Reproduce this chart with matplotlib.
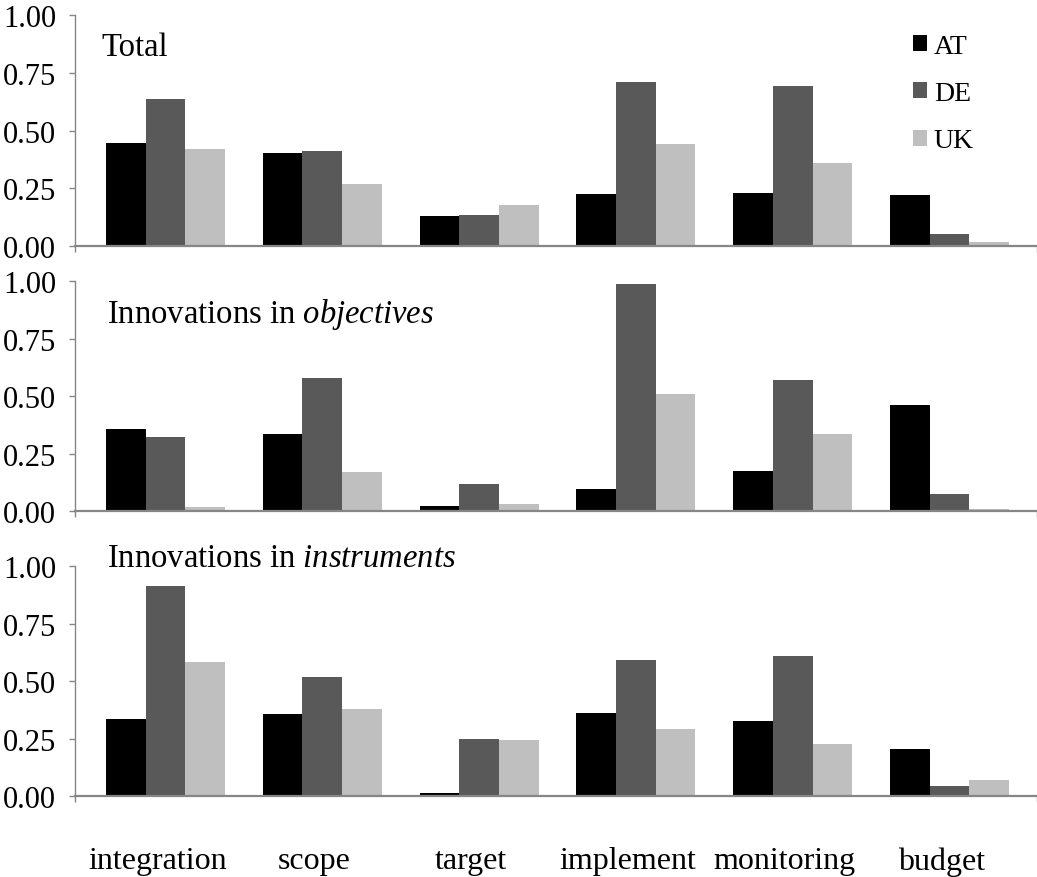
import numpy as np
import matplotlib
matplotlib.use("Agg")
import matplotlib.pyplot as plt
from matplotlib.transforms import ScaledTranslation

# ---------------- data ----------------
categories = ["integration", "scope", "target", "implement", "monitoring", "budget"]
countries = ["AT", "DE", "UK"]

total_AT = [0.446, 0.403, 0.130, 0.225, 0.229, 0.221]
total_DE = [0.638, 0.411, 0.134, 0.710, 0.693, 0.052]
total_UK = [0.420, 0.268, 0.177, 0.442, 0.359, 0.017]

objectives_AT = [0.358, 0.336, 0.023, 0.097, 0.175, 0.462]
objectives_DE = [0.323, 0.580, 0.119, 0.988, 0.571, 0.075]
objectives_UK = [0.019, 0.171, 0.032, 0.510, 0.336, 0.010]

instruments_AT = [0.336, 0.358, 0.014, 0.362, 0.328, 0.206]
instruments_DE = [0.914, 0.519, 0.249, 0.593, 0.610, 0.045]
instruments_UK = [0.584, 0.380, 0.245, 0.293, 0.228, 0.071]

panel_titles = ["Total", r"Innovations in $\mathit{objectives}$",
                r"Innovations in $\mathit{instruments}$"]
yticks = [0.0, 0.25, 0.5, 0.75, 1.0]

# ---------------- style ----------------
plt.rcParams["font.family"] = ["Liberation Serif", "DejaVu Serif"]
plt.rcParams["mathtext.fontset"] = "custom"
plt.rcParams["mathtext.rm"] = "Liberation Serif"
plt.rcParams["mathtext.it"] = "Liberation Serif:italic"

colors = ["#000000", "#595959", "#bfbfbf"]
axis_gray = "#868686"

W, H = 1037, 878
fig = plt.figure(figsize=(W / 100, H / 100), dpi=100)

# panel pixel geometry (top, bottom)
panels_px = [(16, 247.3), (282.3, 512.3), (567.3, 797.3)]
left_px, right_px = 75, 1036.5
title_pos = [(0.027, 0.827), (0.033, 0.822), (0.033, 1.0)]

data = [
    (total_AT, total_DE, total_UK),
    (objectives_AT, objectives_DE, objectives_UK),
    (instruments_AT, instruments_DE, instruments_UK),
]

x = np.arange(len(categories))
bw = 0.253
xlim = (-0.577, 5.555)

for i, ((top, bot), series) in enumerate(zip(panels_px, data)):
    ax = fig.add_axes([left_px / W, (H - bot) / H, (right_px - left_px) / W, (bot - top) / H])
    bars = []
    for j, (vals, c) in enumerate(zip(series, colors)):
        b = ax.bar(x + (j - 1) * bw, vals, width=bw, color=c, label=countries[j],
                   linewidth=0)
        bars.append(b)
    ax.set_ylim(0, 1)
    ax.set_xlim(*xlim)
    ax.set_yticks(yticks)
    ax.set_yticklabels([f"{v:.2f}" for v in yticks], fontsize=22)
    ax.tick_params(axis="y", length=4.5, width=1, color=axis_gray, pad=9)
    for s in ["top", "right"]:
        ax.spines[s].set_visible(False)
    ax.spines["left"].set_color(axis_gray)
    ax.spines["left"].set_linewidth(1.0)
    ax.spines["bottom"].set_color(axis_gray)
    ax.spines["bottom"].set_linewidth(1.6)

    ax.set_xticks(x)
    ax.set_xticks(list(xlim), minor=True)
    ax.tick_params(axis="x", which="minor", length=4.5, width=1, color=axis_gray)
    if i == 2:
        ax.set_xticklabels(categories, fontsize=23)
        ax.tick_params(axis="x", which="major", length=0, pad=36)
        for lab in ax.get_xticklabels():
            lab.set_transform(lab.get_transform() + ScaledTranslation(-8 / 100, 0, fig.dpi_scale_trans))
    else:
        ax.set_xticklabels([])
        ax.tick_params(axis="x", which="major", length=0)

    tx, ty = title_pos[i]
    ax.text(tx, ty, panel_titles[i], transform=ax.transAxes, fontsize=23.5,
            ha="left", va="baseline")

    if i == 0:
        ax.legend(handles=bars, loc="upper left",
                  bbox_to_anchor=(913 / W, 1 - 35 / H), bbox_transform=fig.transFigure,
                  frameon=False, fontsize=20, handlelength=0.5, handleheight=0.5,
                  handletextpad=0.25, labelspacing=0.8, borderpad=0, borderaxespad=0)

fig.savefig("out.png", dpi=100)
